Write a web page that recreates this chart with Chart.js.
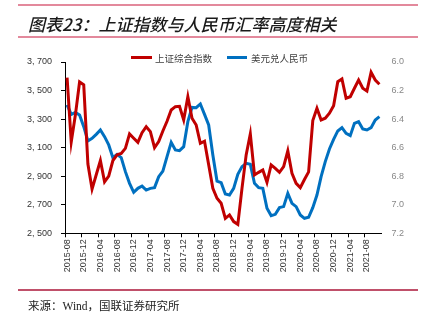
<!DOCTYPE html>
<html>
<head>
<meta charset="utf-8">
<script src="https://cdn.jsdelivr.net/npm/chart.js@4.4.0/dist/chart.umd.min.js"></script>
<style>
  html, body { margin: 0; padding: 0; background: #fff; }
  #wrap { position: relative; width: 428px; height: 321px; overflow: hidden; }
  #c { position: absolute; left: 0; top: 0; }
  .rule { position: absolute; left: 18px; width: 400px; }
  .txt { position: absolute; white-space: nowrap; }
  .swatch { position: absolute; height: 3px; }
</style>
</head>
<body>
<div id="wrap">
  <canvas id="c" width="428" height="321"></canvas>
  <div class="rule" style="top:4px;height:2px;background:#e3899c;"></div>
  <div class="txt" style="left:28px;top:11px;font:italic 500 17px 'Noto Sans CJK SC';color:#1a1a1a;">图表23：上证指数与人民币汇率高度相关</div>
  <div class="rule" style="top:36px;height:2px;background:#e3899c;"></div>

  <div class="swatch" style="left:131px;top:56px;width:21px;background:#c00000;"></div>
  <div class="txt" style="left:155px;top:51px;font:9.5px 'Noto Sans CJK SC';color:#404040;">上证综合指数</div>
  <div class="swatch" style="left:227px;top:56px;width:20px;background:#0070c0;"></div>
  <div class="txt" style="left:251px;top:51px;font:9.5px 'Noto Sans CJK SC';color:#404040;">美元兑人民币</div>

  <div class="rule" style="top:289px;height:1.5px;background:#c0506a;"></div>
  <div class="txt" style="left:28px;top:297px;font:11.5px 'Liberation Serif','Noto Sans CJK SC';color:#222;">来源：Wind，国联证券研究所</div>
</div>
<script>
// months 2015-08 .. 2021-11
const months = [
  "2015-08","2015-09","2015-10","2015-11","2015-12",
  "2016-01","2016-02","2016-03","2016-04","2016-05","2016-06","2016-07","2016-08","2016-09","2016-10","2016-11","2016-12",
  "2017-01","2017-02","2017-03","2017-04","2017-05","2017-06","2017-07","2017-08","2017-09","2017-10","2017-11","2017-12",
  "2018-01","2018-02","2018-03","2018-04","2018-05","2018-06","2018-07","2018-08","2018-09","2018-10","2018-11","2018-12",
  "2019-01","2019-02","2019-03","2019-04","2019-05","2019-06","2019-07","2019-08","2019-09","2019-10","2019-11","2019-12",
  "2020-01","2020-02","2020-03","2020-04","2020-05","2020-06","2020-07","2020-08","2020-09","2020-10","2020-11","2020-12",
  "2021-01","2021-02","2021-03","2021-04","2021-05","2021-06","2021-07","2021-08","2021-09","2021-10","2021-11"
];

// 上证综合指数 (left axis)
const sseIndex = [
  3590, 3140, 3330, 3560, 3540,
  2985, 2810, 2910, 3010, 2860, 2900, 3010, 3050, 3060, 3095, 3196, 3166,
  3137, 3205, 3247, 3212, 3100, 3142, 3217, 3285, 3364, 3387, 3390, 3294,
  3457, 3306, 3259, 3130, 3145, 2980, 2815, 2745, 2710, 2605, 2629, 2582,
  2563, 2815, 3049, 3196, 2909, 2927, 2944, 2857, 2979, 2955, 2927, 2967,
  3077, 2920, 2850, 2820, 2877, 2930, 3290, 3376, 3294, 3306, 3341, 3394,
  3562, 3581, 3446, 3457, 3516, 3574, 3516, 3497, 3628, 3574, 3544
];

// 美元兑人民币 (right axis, reversed)
const usdCny = [
  6.300, 6.367, 6.353, 6.371, 6.453,
  6.553, 6.535, 6.507, 6.476, 6.523, 6.581, 6.670, 6.647, 6.670, 6.768, 6.850, 6.913,
  6.885, 6.869, 6.897, 6.885, 6.880, 6.803, 6.764, 6.663, 6.563, 6.616, 6.621, 6.593,
  6.418, 6.318, 6.320, 6.294, 6.367, 6.441, 6.651, 6.834, 6.845, 6.924, 6.932, 6.885,
  6.787, 6.733, 6.710, 6.717, 6.850, 6.880, 6.885, 7.025, 7.076, 7.067, 7.020, 7.013,
  6.920, 6.990, 7.013, 7.072, 7.095, 7.088, 7.020, 6.932, 6.803, 6.698, 6.609, 6.542,
  6.483, 6.460, 6.500, 6.516, 6.430, 6.418, 6.469, 6.476, 6.460, 6.406, 6.383
];

const labelEvery = 4;

Chart.defaults.font.family = "'Liberation Sans', Arial, sans-serif";
Chart.defaults.font.size = 9;

const ctx = document.getElementById("c").getContext("2d");

new Chart(ctx, {
  type: "line",
  data: {
    labels: months,
    datasets: [
      {
        label: "上证综合指数",
        data: sseIndex,
        borderColor: "#c00000",
        borderWidth: 3,
        pointRadius: 0,
        tension: 0,
        yAxisID: "y"
      },
      {
        label: "美元兑人民币",
        data: usdCny,
        borderColor: "#0070c0",
        borderWidth: 3,
        pointRadius: 0,
        tension: 0,
        yAxisID: "y1"
      }
    ]
  },
  options: {
    responsive: false,
    animation: false,
    devicePixelRatio: 1,
    layout: { padding: { top: 62, left: 0, right: 0, bottom: 0 } },
    plugins: {
      legend: { display: false },
      tooltip: { enabled: false }
    },
    scales: {
      x: {
        offset: true,
        grid: {
          offset: true,
          drawOnChartArea: false,
          tickLength: 4,
          tickColor: (c) => (c.index % labelEvery === 0 ? "#000" : "rgba(0,0,0,0)")
        },
        border: { color: "#000", width: 1 },
        ticks: {
          autoSkip: false,
          minRotation: 90,
          maxRotation: 90,
          padding: 2,
          color: "#333",
          callback: function (v, i) { return i % labelEvery === 0 ? months[i] : ""; }
        },
        afterFit: (a) => { a.height = 87.7; }
      },
      y: {
        position: "left",
        min: 2500,
        max: 3700,
        grid: { drawOnChartArea: false, tickLength: 4, color: "#000" },
        border: { color: "#000", width: 1 },
        ticks: {
          stepSize: 200,
          padding: 9,
          color: "#333",
          callback: (v) => Math.floor(v / 1000) + ", " + String(v % 1000).padStart(3, "0")
        },
        afterFit: (a) => { a.width = 65; }
      },
      y1: {
        position: "right",
        reverse: true,
        min: 6.0,
        max: 7.2,
        grid: { display: false, drawTicks: false },
        border: { display: false },
        ticks: {
          stepSize: 0.2,
          padding: 10,
          color: "#888",
          callback: (v) => v.toFixed(1)
        },
        afterFit: (a) => { a.width = 46.5; }
      }
    }
  }
});
</script>
</body>
</html>
